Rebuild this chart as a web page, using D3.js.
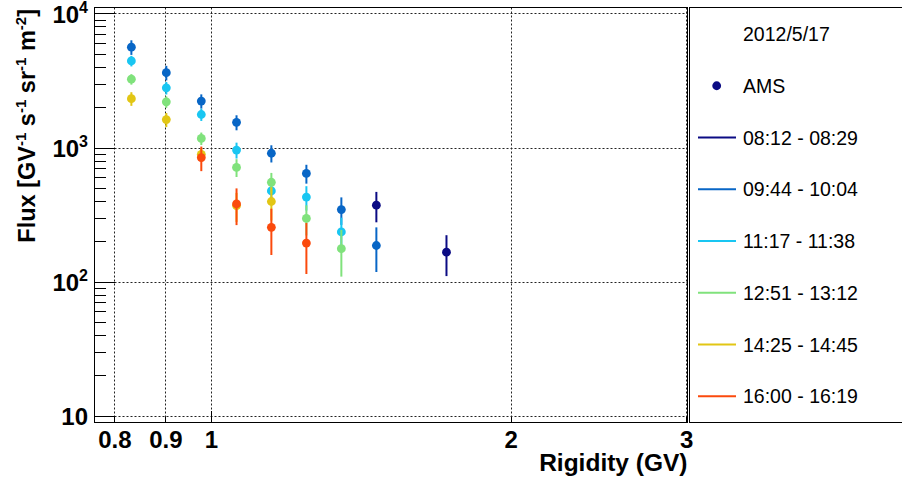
<!DOCTYPE html>
<html><head><meta charset="utf-8">
<script src="https://cdn.jsdelivr.net/npm/d3@7"></script>
<style>
body{margin:0;background:#fff;}
svg{display:block;}
text{font-family:"Liberation Sans",Arial,Helvetica,sans-serif;}
</style>
</head><body>
<svg id="c" width="902" height="477"></svg>
<script>
// ---- data ----
const rigidity = [0.832, 0.902, 0.978, 1.061, 1.150, 1.247, 1.352, 1.466, 1.724];
const seriesLabels = ["08:12 - 08:29", "09:44 - 10:04", "11:17 - 11:38", "12:51 - 13:12", "14:25 - 14:45", "16:00 - 16:19"];
const seriesColors = ["#0b0b84", "#0866c6", "#19c6f2", "#80e27c", "#e2c614", "#fb4a0d"];
const flux0812 = [null, null, null, null, null, null, null, 372, 166];
const err0812  = [null, null, null, null, null, null, null, 95, 56];
const flux0944 = [5610, 3618, 2223, 1543, 907, 641, 345, 186, null];
const err0944  = [700, 450, 270, 198, 133, 103, 80, 68, null];
const flux1117 = [4429, 2788, 1764, 958, 475, 427, 235, null, null];
const err1117  = [400, 300, 185, 130, 90, 88, 65, null, null];
const flux1251 = [3236, 2193, 1169, 711, 551, 296, 176, null, null];
const err1251  = [290, 215, 125, 108, 96, 75, 67, null, null];
const flux1425 = [2317, 1616, 891, 369, 396, null, null, null, null];
const err1425  = [270, 195, 95, 90, 110, null, null, null, null];
const flux1600 = [null, null, 842, 380, 254, 194, null, null, null];
const err1600  = [null, null, 175, 116, 96, 80, null, null, null];
const legendTitle = "2012/5/17";
const legendMarkerLabel = "AMS";
const xTickValues = [0.8, 0.9, 1, 2, 3];
const xTickLabels = ["0.8", "0.9", "1", "2", "3"];
const yTickValues = [10, 100, 1000, 10000];
const yTickExponents = ["", "2", "3", "4"];
const xTitle = "Rigidity (GV)";

const fluxes = [flux0812, flux0944, flux1117, flux1251, flux1425, flux1600];
const errs = [err0812, err0944, err1117, err1251, err1425, err1600];
const series = seriesLabels.map((label, i) => ({
  label, color: seriesColors[i],
  pts: rigidity.map((r, j) => ({r, f: fluxes[i][j], e: errs[i][j]})).filter(p => p.f != null)
}));

// ---- layout ----
const svg = d3.select("#c");
const L = 94.5, R = 687.5, T = 7.5, B = 422.5;
const x = d3.scaleLog().domain([0.764, 3.01]).range([L, R]);
const y = d3.scaleLog().domain([8.9, 11083]).range([B, T]);

// grid
const grid = svg.append("g").attr("stroke", "#222").attr("stroke-width", 1).attr("stroke-dasharray", "2,2");
grid.selectAll(".gx").data(xTickValues).join("line")
  .attr("x1", d => Math.round(x(d)) + 0.5).attr("x2", d => Math.round(x(d)) + 0.5)
  .attr("y1", T).attr("y2", B);
grid.selectAll(".gy").data(yTickValues).join("line")
  .attr("x1", L).attr("x2", R)
  .attr("y1", d => Math.round(y(d)) + 0.5).attr("y2", d => Math.round(y(d)) + 0.5);

// y axis major
const yMajor = svg.append("g").attr("transform", `translate(${L},0)`)
  .call(d3.axisLeft(y).tickValues(yTickValues).tickSizeInner(-20).tickSizeOuter(0).tickPadding(6.5).tickFormat(() => ""));
yMajor.select(".domain").remove();
yMajor.selectAll(".tick line").attr("stroke", "#000").attr("shape-rendering", "crispEdges");
yMajor.selectAll(".tick text").each(function(d, i) {
  const t = d3.select(this).attr("font-size", 24).attr("font-weight", "bold").attr("fill", "#000")
    .attr("font-family", '"Liberation Sans",Arial,sans-serif').attr("dy", "0.36em");
  const k = yTickValues.indexOf(d);
  t.append("tspan").text("10");
  if (yTickExponents[k]) t.append("tspan").attr("font-size", 16).attr("dy", "-0.6em").text(yTickExponents[k]);
});

// y axis minor
const yMinorVals = [];
[10, 100, 1000].forEach(dec => { for (let m = 2; m <= 9; m++) yMinorVals.push(dec * m); });
const yMinor = svg.append("g").attr("transform", `translate(${L},0)`)
  .call(d3.axisLeft(y).tickValues(yMinorVals).tickSizeInner(-11).tickSizeOuter(0).tickFormat(() => ""));
yMinor.select(".domain").remove();
yMinor.selectAll(".tick line").attr("stroke", "#000").attr("shape-rendering", "crispEdges");

// x axis
const xAx = svg.append("g").attr("transform", `translate(0,${B})`)
  .call(d3.axisBottom(x).tickValues(xTickValues).tickSizeInner(-6).tickSizeOuter(0).tickPadding(8)
    .tickFormat((d, i) => xTickLabels[i]));
xAx.select(".domain").remove();
xAx.selectAll(".tick line").attr("stroke", "#000").attr("shape-rendering", "crispEdges")
  .attr("y2", d => d === 1 ? -12 : -6);
xAx.selectAll(".tick text").attr("font-size", 24).attr("font-weight", "bold").attr("fill", "#000")
  .attr("font-family", '"Liberation Sans",Arial,sans-serif');

// frame
svg.append("rect").attr("x", L).attr("y", T).attr("width", R - L).attr("height", B - T)
  .attr("fill", "none").attr("stroke", "#000").attr("stroke-width", 1).attr("shape-rendering", "crispEdges");

// axis titles
svg.append("text").attr("x", R).attr("y", 471).attr("text-anchor", "end")
  .attr("font-size", 24.5).attr("font-weight", "bold").text(xTitle);
const yt = svg.append("text").attr("transform", "translate(35,9) rotate(-90)").attr("text-anchor", "end")
  .attr("font-size", 23.5).attr("font-weight", "bold");
const ytParts = [["Flux [GV", 0], ["-1", 1], [" s", 0], ["-1", 1], [" sr", 0], ["-1", 1], [" m", 0], ["-2", 1], ["]", 0]];
let sup = false;
ytParts.forEach(([s, isSup]) => {
  const sp = yt.append("tspan").text(s);
  if (isSup && !sup) { sp.attr("font-size", 15).attr("dy", "-0.62em"); sup = true; }
  else if (!isSup && sup) { sp.attr("dy", "0.4em"); sup = false; }
  else if (isSup) sp.attr("font-size", 15);
});

// data
const dataG = svg.append("g");
series.forEach(s => {
  const g = dataG.append("g");
  g.selectAll("line").data(s.pts).join("line")
    .attr("x1", d => x(d.r)).attr("x2", d => x(d.r))
    .attr("y1", d => y(d.f + d.e)).attr("y2", d => y(Math.max(d.f - d.e, 1)))
    .attr("stroke", s.color).attr("stroke-width", 2);
  g.selectAll("circle").data(s.pts).join("circle")
    .attr("cx", d => x(d.r)).attr("cy", d => y(d.f)).attr("r", 4.4)
    .attr("fill", s.color);
});

// legend
const LX = 689.5;
svg.append("rect").attr("x", LX).attr("y", T).attr("width", 230).attr("height", B - T)
  .attr("fill", "#fff").attr("stroke", "#000").attr("stroke-width", 1).attr("shape-rendering", "crispEdges");
const rowY = i => 34 + i * 51.75;
const lg = svg.append("g").attr("font-size", 19.5).attr("fill", "#000");
lg.append("text").attr("x", 743).attr("y", rowY(0)).attr("dy", "0.36em").text(legendTitle);
lg.append("circle").attr("cx", 716.7).attr("cy", rowY(1)).attr("r", 4.4).attr("fill", seriesColors[0]);
lg.append("text").attr("x", 743).attr("y", rowY(1)).attr("dy", "0.36em").text(legendMarkerLabel);
series.forEach((s, i) => {
  const yy = rowY(i + 2);
  lg.append("line").attr("x1", 698).attr("x2", 736).attr("y1", yy).attr("y2", yy)
    .attr("stroke", s.color).attr("stroke-width", 2);
  lg.append("text").attr("x", 743).attr("y", yy).attr("dy", "0.36em").text(s.label);
});
</script>
</body></html>
